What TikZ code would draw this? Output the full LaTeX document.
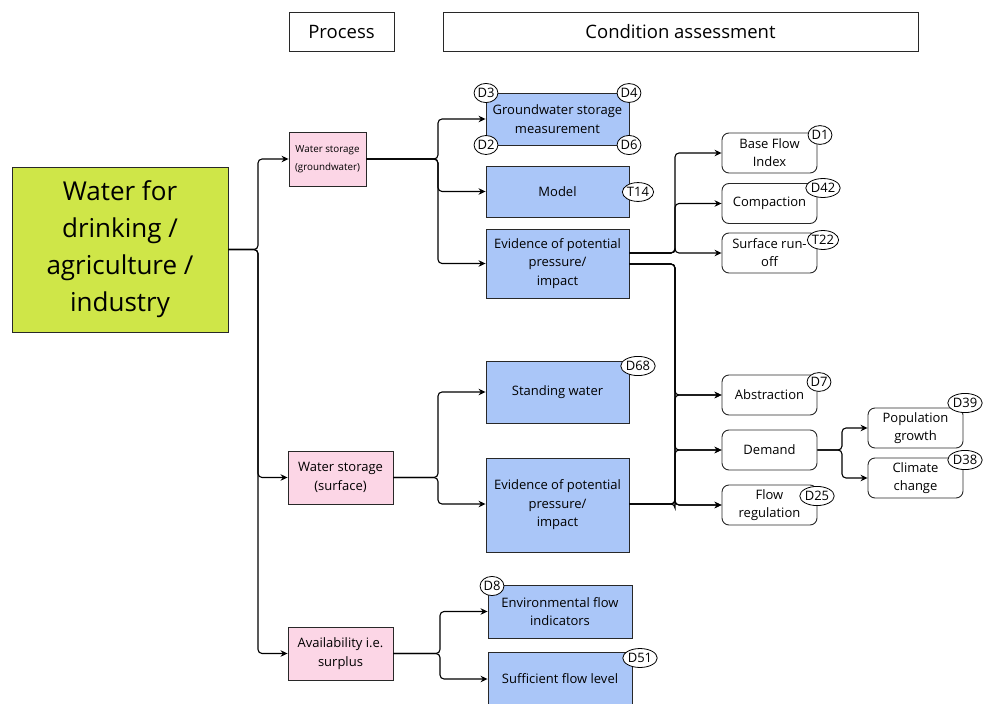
\documentclass[tikz,border=0pt]{standalone}
\usepackage{fontspec}
\setmainfont{Open Sans}
\usetikzlibrary{shapes.geometric,arrows.meta}

\definecolor{goalgreen}{RGB}{207,230,72}
\definecolor{procpink}{RGB}{252,214,230}
\definecolor{measblue}{RGB}{170,198,248}
\definecolor{edge}{RGB}{40,40,40}

\tikzset{
  base/.style={draw=edge, line width=0.9pt, align=center, inner sep=2pt},
  hdr/.style={base, font=\fontsize{18.5}{20}\selectfont},
  goal/.style={base, fill=goalgreen, font=\fontsize{26}{37}\selectfont},
  proc/.style={base, fill=procpink, font=\fontsize{13}{18.5}\selectfont},
  meas/.style={base, fill=measblue, minimum width=143pt, font=\fontsize{13}{18.5}\selectfont},
  factor/.style={base, rounded corners=7pt, fill=white, minimum width=95pt, minimum height=40pt,
    font=\fontsize{13}{18}\selectfont},
  badge/.style={ellipse, draw=black, line width=0.8pt, fill=white, inner xsep=0pt, inner ysep=2pt,
    font=\fontsize{13}{14}\selectfont},
  conn/.style={line width=1.1pt, rounded corners=4pt, -{Stealth[length=7pt,width=6.5pt]}},
}

\begin{document}
\begin{tikzpicture}[x=1pt, y=-1pt]
\useasboundingbox (0,0) rectangle (983,704);

% column headers
\node[hdr, minimum width=105pt, minimum height=39pt] (hproc) at (341.5,31.5) {Process};
\node[hdr, minimum width=475pt, minimum height=39pt] (hcond) at (680.5,31.5) {Condition assessment};

% goal
\node[goal, minimum width=216pt, minimum height=165pt] (goal) at (120,249.5)
  {Water for\\drinking /\\agriculture /\\industry};

% processes
\node[proc, minimum width=77pt, minimum height=54pt, font=\fontsize{9.8}{18.5}\selectfont] (gw) at (327.5,159)
  {Water storage\\(groundwater)};
\node[proc, minimum width=105pt, minimum height=53pt] (surf) at (340.5,477.5)
  {Water storage\\(surface)};
\node[proc, minimum width=105pt, minimum height=53pt] (avail) at (340.5,653.5)
  {Availability i.e.\\surplus};

% condition measures
\node[meas, minimum height=52pt] (gsm) at (557.5,119) {Groundwater storage\\measurement};
\node[meas, minimum height=51pt] (model) at (557.5,191.5) {Model};
\node[meas, minimum height=69pt] (ev1) at (557.5,263.5) {Evidence of potential\\pressure/\\impact};
\node[meas, minimum height=62pt] (stand) at (557.5,392) {Standing water};
\node[meas, minimum height=94pt] (ev2) at (557.5,505) {Evidence of potential\\pressure/\\impact};
\node[meas, minimum width=144pt, minimum height=53pt] (env) at (560,611.5) {Environmental flow\\indicators};
\node[meas, minimum width=144pt, minimum height=54pt] (suff) at (560,679) {Sufficient flow level};

% pressures and drivers
\node[factor] (bfi) at (769.5,153) {Base Flow\\Index};
\node[factor] (comp) at (769.5,203.5) {Compaction};
\node[factor] (sro) at (769.5,253) {Surface run-\\off};
\node[factor] (abs) at (769.5,395) {Abstraction};
\node[factor] (dem) at (769.5,450) {Demand};
\node[factor] (flow) at (769.5,505) {Flow\\regulation};
\node[factor] (pop) at (915.5,428) {Population\\growth};
\node[factor] (clim) at (915.5,478) {Climate\\change};

% connectors
\coordinate (t0) at (258,249.5);
\foreach \n in {gw,surf,avail}
  \draw[conn] (goal.east) -- (t0) |- (\n.west);

\coordinate (t1) at (438,159);
\foreach \n in {gsm,model,ev1}
  \draw[conn] (gw.east) -- (t1) |- (\n.west);

\coordinate (t2) at (438,477.5);
\draw[conn] (surf.east) -- (t2) |- (stand.west);
\draw[conn] (surf.east) -- (t2) |- ([yshift=1pt]ev2.west);

\coordinate (t3) at (440,653.5);
\draw[conn] (avail.east) -- (t3) |- (env.west);
\draw[conn] (avail.east) -- (t3) |- (suff.west);

\coordinate (t4) at (675,253);
\foreach \n in {bfi,comp,sro}
  \draw[conn] ([yshift=10.5pt]ev1.east) -- (t4) |- (\n.west);

\coordinate (t5) at (675,264);
\foreach \n in {abs,dem,flow}
  \draw[conn] ([yshift=-0.5pt]ev1.east) -- (t5) |- (\n.west);

\coordinate (t6) at (675,504);
\foreach \n in {abs,dem,flow}
  \draw[conn] ([yshift=1pt]ev2.east) -- (t6) |- (\n.west);

\coordinate (t7) at (842,450);
\draw[conn] (dem.east) -- (t7) |- (pop.west);
\draw[conn] (dem.east) -- (t7) |- (clim.west);

% data source badges
\node[badge] (bD3) at (486,93) {D3};
\node[badge] (bD4) at (629,93) {D4};
\node[badge] (bD2) at (486,145) {D2};
\node[badge] (bD6) at (629,145) {D6};
\node[badge] (bT14) at (638,192) {T14};
\node[badge] (bD1) at (820,135) {D1};
\node[badge] (bD42) at (823,188) {D42};
\node[badge] (bT22) at (823,240) {T22};
\node[badge] (bD68) at (638,366) {D68};
\node[badge] (bD7) at (819,382) {D7};
\node[badge] (bD25) at (817,496) {D25};
\node[badge] (bD39) at (965,403) {D39};
\node[badge] (bD38) at (965,460) {D38};
\node[badge] (bD8) at (492,586) {D8};
\node[badge] (bD51) at (640,658) {D51};
\end{tikzpicture}
\end{document}
